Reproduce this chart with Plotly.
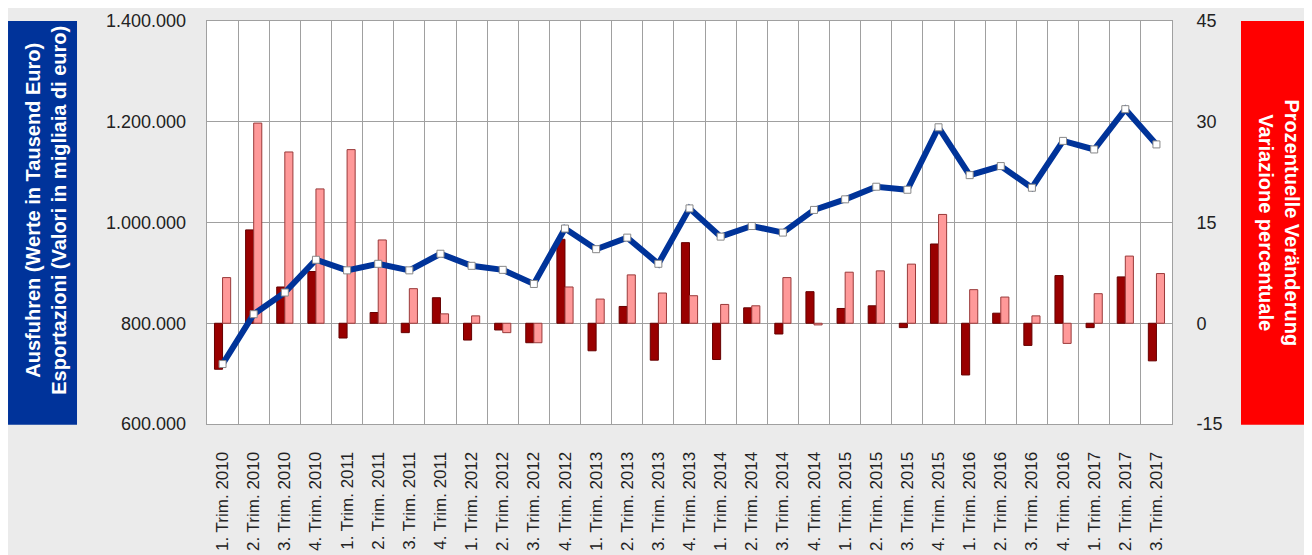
import plotly.graph_objects as go

categories = [
    "1. Trim. 2010", "2. Trim. 2010", "3. Trim. 2010", "4. Trim. 2010",
    "1. Trim. 2011", "2. Trim. 2011", "3. Trim. 2011", "4. Trim. 2011",
    "1. Trim. 2012", "2. Trim. 2012", "3. Trim. 2012", "4. Trim. 2012",
    "1. Trim. 2013", "2. Trim. 2013", "3. Trim. 2013", "4. Trim. 2013",
    "1. Trim. 2014", "2. Trim. 2014", "3. Trim. 2014", "4. Trim. 2014",
    "1. Trim. 2015", "2. Trim. 2015", "3. Trim. 2015", "4. Trim. 2015",
    "1. Trim. 2016", "2. Trim. 2016", "3. Trim. 2016", "4. Trim. 2016",
    "1. Trim. 2017", "2. Trim. 2017", "3. Trim. 2017",
]

exports = [
    719000, 818000, 861000, 926000,
    905000, 918000, 905000, 938000,
    914000, 906000, 878000, 988000,
    947000, 970000, 918000, 1028000,
    972000, 993000, 980000, 1025000,
    1046000, 1071000, 1065000, 1189000,
    1094000, 1112000, 1069000, 1162000,
    1145000, 1225000, 1155000,
]

change_prev_quarter = [
    -6.85, 13.9, 5.4, 7.7,
    -2.2, 1.6, -1.4, 3.8,
    -2.5, -1.0, -2.9, 12.5,
    -4.1, 2.5, -5.5, 12.0,
    -5.4, 2.3, -1.6, 4.7,
    2.2, 2.6, -0.65, 11.8,
    -7.7, 1.5, -3.3, 7.1,
    -0.65, 6.9, -5.6,
]

change_prev_year = [
    6.8, 29.8, 25.5, 20.0,
    25.85, 12.4, 5.15, 1.4,
    1.1, -1.4, -2.9, 5.4,
    3.6, 7.2, 4.5, 4.1,
    2.8, 2.6, 6.8, -0.25,
    7.6, 7.8, 8.8, 16.2,
    5.0, 3.9, 1.1, -3.0,
    4.4, 10.0, 7.4,
]

left_ticks = [600000, 800000, 1000000, 1200000, 1400000]
right_ticks = [-15, 0, 15, 30, 45]

FONT = "Liberation Sans, Arial, sans-serif"
GRID = "#a0a0a0"

fig = go.Figure()

fig.add_trace(go.Bar(
    x=categories, y=change_prev_quarter, yaxis="y",
    marker=dict(color="#990000", line=dict(color="#660000", width=1)),
    name="Vorquartal",
))
fig.add_trace(go.Bar(
    x=categories, y=change_prev_year, yaxis="y",
    marker=dict(color="#ff9999", line=dict(color="#9a3a3a", width=1)),
    name="Vorjahr",
))
fig.add_trace(go.Scatter(
    x=categories, y=exports, yaxis="y2", mode="lines+markers",
    line=dict(color="#003399", width=6),
    marker=dict(symbol="square", size=7, color="white",
                line=dict(color="#888888", width=1)),
    name="Ausfuhren",
))

fig.update_layout(
    width=1304, height=547,
    margin=dict(l=199, r=140, t=13, b=131, autoexpand=False),
    paper_bgcolor="#ebebeb",
    plot_bgcolor="white",
    separators=",.",
    showlegend=False,
    barmode="group",
    bargap=0.48,
    bargroupgap=0,
    font=dict(family=FONT, color="#222222"),
    xaxis=dict(
        type="category",
        automargin=False,
        tickson="boundaries",
        showgrid=True, gridcolor=GRID, gridwidth=1,
        showline=True, linecolor=GRID, mirror=True,
        ticks="", tickangle=-90,
        tickfont=dict(size=17, family=FONT, color="#222222"),
        ticklabelstandoff=20,
        range=[-0.5, 30.5],
    ),
    yaxis=dict(
        side="right",
        automargin=False,
        range=[-15, 45],
        tickvals=right_ticks,
        ticktext=[str(v) for v in right_ticks],
        showgrid=True, gridcolor=GRID, gridwidth=1,
        zeroline=False,
        showline=True, linecolor=GRID, mirror=True,
        ticks="",
        tickfont=dict(size=18, family=FONT, color="#222222"),
        ticklabelstandoff=20,
    ),
    yaxis2=dict(
        side="left", overlaying="y",
        automargin=False,
        range=[600000, 1400000],
        tickvals=left_ticks,
        tickformat=",d",
        showgrid=False, zeroline=False,
        ticks="",
        tickfont=dict(size=18, family=FONT, color="#222222"),
        ticklabelstandoff=20,
    ),
    shapes=[
        dict(type="rect", xref="paper", yref="paper",
             x0=-0.2062, x1=-0.1347, y0=-0.002, y1=1.0,
             fillcolor="#00339a", line=dict(width=0), layer="below"),
        dict(type="rect", xref="paper", yref="paper",
             x0=1.0715, x1=1.142, y0=-0.002, y1=1.0,
             fillcolor="#ff0000", line=dict(width=0), layer="below"),
    ],
    annotations=[
        dict(xref="paper", yref="paper", x=-0.1665, y=0.53,
             text="<b>Ausfuhren (Werte in Tausend Euro)<br>Esportazioni (Valori in migliaia di euro)</b>",
             textangle=-90, showarrow=False,
             font=dict(size=20, color="white", family=FONT),
             xanchor="center", yanchor="middle"),
        dict(xref="paper", yref="paper", x=1.111, y=0.5,
             text="<b>Prozentuelle Veränderung<br>Variazione percentuale</b>",
             textangle=90, showarrow=False,
             font=dict(size=20, color="white", family=FONT),
             xanchor="center", yanchor="middle"),
    ],
)

fig.write_html("out.html")
